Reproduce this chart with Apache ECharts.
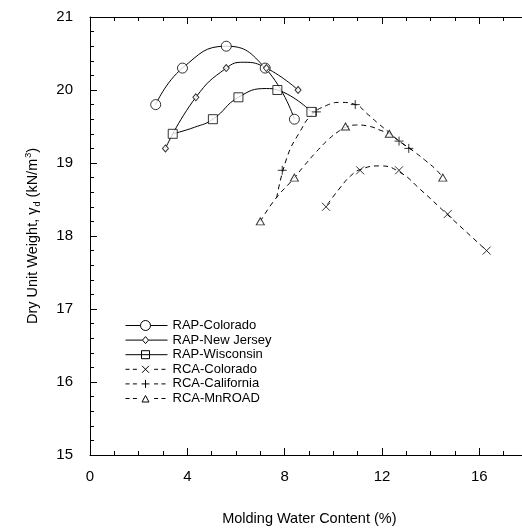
<!DOCTYPE html>
<html><head><meta charset="utf-8">
<script src="https://cdn.jsdelivr.net/npm/echarts@6/dist/echarts.min.js"></script>
<style>html,body{margin:0;padding:0;background:#fff}#c{width:522px;height:531px}</style>
</head><body><div id="c"></div>
<script>
// ---- data ----
const rapColoradoX = [2.7, 3.8, 5.6, 7.2, 8.4];
const rapColoradoY = [19.8, 20.3, 20.6, 20.3, 19.6];
const rapNewJerseyX = [3.1, 4.35, 5.6, 7.25, 8.55];
const rapNewJerseyY = [19.2, 19.9, 20.3, 20.3, 20.0];
const rapWisconsinX = [3.4, 5.05, 6.1, 7.7, 9.1];
const rapWisconsinY = [19.4, 19.6, 19.9, 20.0, 19.7];

const rcaColoradoX = [9.7, 11.1, 12.7, 14.7, 16.3];
const rcaColoradoY = [18.4, 18.9, 18.9, 18.3, 17.8];
const rcaCaliforniaX = [7.9, 9.3, 10.9, 12.7, 13.1];
const rcaCaliforniaY = [18.9, 19.7, 19.8, 19.3, 19.2];
const rcaMnroadX = [7.0, 8.4, 10.5, 12.3, 14.5];
const rcaMnroadY = [18.2, 18.8, 19.5, 19.4, 18.8];

// curves (solid spline curves and dashed fit curves)
const rapColoradoCurveX = [2.7, 3.8, 5.6, 7.2, 8.4];
const rapColoradoCurveY = [19.8, 20.3, 20.6, 20.3, 19.6];
const rapNewJerseyCurveX = [3.1, 4.35, 5.6, 6.3, 7.25, 8.55];
const rapNewJerseyCurveY = [19.2, 19.9, 20.3, 20.38, 20.3, 20.0];
const rapWisconsinCurveX = [3.4, 4.3, 5.05, 6.1, 7.25, 7.7, 9.1];
const rapWisconsinCurveY = [19.4, 19.49, 19.6, 19.9, 20.02, 20.0, 19.7];

const rcaColoradoFitX = [9.75, 10.3, 10.7, 11.1, 11.9, 12.7, 13.6, 14.7, 16.3];
const rcaColoradoFitY = [18.43, 18.67, 18.82, 18.91, 18.96, 18.88, 18.63, 18.29, 17.8];
const rcaCaliforniaFitX = [7.67, 8.11, 8.63, 9.11, 9.73, 10.28, 10.92, 11.37, 11.85, 12.29, 12.74, 13.29];
const rcaCaliforniaFitY = [18.52, 19.09, 19.43, 19.66, 19.79, 19.83, 19.80, 19.68, 19.54, 19.42, 19.29, 19.17];
const rcaMnroadFitX = [7.0, 7.6, 8.38, 8.77, 9.32, 9.79, 10.2, 10.51, 10.96, 11.51, 11.92, 12.29, 12.75, 13.3, 13.8, 14.25, 14.5];
const rcaMnroadFitY = [18.2, 18.5, 18.79, 18.95, 19.16, 19.32, 19.43, 19.49, 19.52, 19.50, 19.45, 19.40, 19.29, 19.16, 19.03, 18.9, 18.8];

const seriesNames = ['RAP-Colorado', 'RAP-New Jersey', 'RAP-Wisconsin', 'RCA-Colorado', 'RCA-California', 'RCA-MnROAD'];
const xTickLabels = [0, 4, 8, 12, 16];
const yTickLabels = [15, 16, 17, 18, 19, 20, 21];
const xTitle = 'Molding Water Content (%)';

function zip(xs, ys) { return xs.map((x, i) => [x, ys[i]]); }

const FONT = "'Liberation Sans', Arial, Helvetica, sans-serif";
const dash = [5, 4];

// legend icons (line + marker), drawn as outlines in a 42x10 box
const BOX = 'M0,0M42,10';
const DASHES = 'M0,5L4,5M7.4,5L11.4,5M28.6,5L32.6,5M36,5L40,5';
const icons = [
  'path://' + BOX + 'M0,5L15,5M25,5L42,5M25,5C25,7.76 22.76,10 20,10C17.24,10 15,7.76 15,5C15,2.24 17.24,0 20,0C22.76,0 25,2.24 25,5Z',
  'path://' + BOX + 'M0,5L17,5M23,5L42,5M17,5L20,1.5L23,5L20,8.5Z',
  'path://' + BOX + 'M0,5L42,5M16,1L24,1L24,9L16,9Z',
  'path://' + BOX + DASHES + 'M16.5,1.5L23.5,8.5M23.5,1.5L16.5,8.5',
  'path://' + BOX + DASHES + 'M20,1L20,9M16,5L24,5',
  'path://' + BOX + DASHES + 'M16.5,8.5L20,2L23.5,8.5Z'
];

const X_SYM = 'path://M0,0L10,10M10,0L0,10';
const PLUS_SYM = 'path://M5,0L5,10M0,5L10,5';

const axisLine = { show: true, onZero: false, lineStyle: { color: '#000', width: 1 } };
const tickStyle = { color: '#000', width: 1 };

function curveSeries(name, xs, ys, dashed) {
  return {
    type: 'line', name: name, data: zip(xs, ys), smooth: 0.5,
    symbol: 'none', showSymbol: false, color: '#000',
    lineStyle: { color: '#000', width: 1, type: dashed ? dash : 'solid' },
    emphasis: { disabled: true }, z: 2
  };
}
function markSeries(name, xs, ys, symbol, size, fill) {
  return {
    type: 'scatter', name: name, data: zip(xs, ys),
    symbol: symbol, symbolSize: size,
    itemStyle: { color: fill, borderColor: '#000', borderWidth: 1 },
    emphasis: { disabled: true }, z: 4
  };
}

const chart = echarts.init(document.getElementById('c'), null, { renderer: 'canvas' });
chart.setOption({
  animation: false,
  backgroundColor: '#fff',
  grid: { left: 90, top: 17, width: 486.67, height: 438, containLabel: false, outerBoundsMode: 'none' },
  xAxis: [
    {
      type: 'value', min: 0, max: 20, interval: 4, position: 'bottom',
      axisLine: axisLine,
      axisTick: { show: true, inside: true, length: 7, lineStyle: tickStyle },
      minorTick: { show: true, splitNumber: 4, length: 4, lineStyle: tickStyle },
      splitLine: { show: false },
      axisLabel: {
        margin: 14, fontSize: 15, color: '#000', fontFamily: FONT,
        formatter: v => (xTickLabels.indexOf(v) >= 0 ? String(v) : '')
      },
      name: xTitle, nameLocation: 'middle', nameGap: 56,
      nameTextStyle: { fontSize: 14.5, color: '#000', fontFamily: FONT, padding: [0, 48, 0, 0] }
    },
    {
      type: 'value', min: 0, max: 20, interval: 4, position: 'top',
      axisLine: axisLine,
      axisTick: { show: true, inside: true, length: 7, lineStyle: tickStyle },
      minorTick: { show: true, splitNumber: 4, length: 4, lineStyle: tickStyle },
      splitLine: { show: false }, axisLabel: { show: false }
    }
  ],
  yAxis: {
    type: 'value', min: 15, max: 21, interval: 1, position: 'left',
    axisLine: axisLine,
    axisTick: { show: true, inside: true, length: 7, lineStyle: tickStyle },
    minorTick: { show: true, splitNumber: 5, length: 4, lineStyle: tickStyle },
    splitLine: { show: false },
    axisLabel: {
      margin: 17, fontSize: 15, color: '#000', fontFamily: FONT,
      formatter: v => (yTickLabels.indexOf(v) >= 0 ? String(v) : '')
    },
    name: 'Dry Unit Weight, {g|γ}{d|d} (kN/m{p|3})',
    nameLocation: 'middle', nameRotate: 90, nameGap: 48,
    nameTextStyle: {
      fontSize: 14.5, color: '#000', fontFamily: FONT,
      rich: {
        g: { fontSize: 14.5, color: '#000', fontFamily: FONT },
        d: { fontSize: 9, color: '#000', fontFamily: FONT, padding: [9, 0, 0, 1] },
        p: { fontSize: 9, color: '#000', fontFamily: FONT, padding: [0, 0, 8, 1] }
      }
    }
  },
  legend: {
    orient: 'vertical', left: 118, top: 313, padding: 5,
    itemWidth: 42, itemHeight: 10, itemGap: -0.4,
    selectedMode: false,
    textStyle: { fontSize: 13, color: '#000', fontFamily: FONT, lineHeight: 14 },
    itemStyle: { color: 'none', borderColor: '#000', borderWidth: 1 },
    data: seriesNames.map((n, i) => ({ name: n, icon: icons[i] }))
  },
  series: [
    curveSeries(seriesNames[0], rapColoradoCurveX, rapColoradoCurveY, false),
    curveSeries(seriesNames[1], rapNewJerseyCurveX, rapNewJerseyCurveY, false),
    curveSeries(seriesNames[2], rapWisconsinCurveX, rapWisconsinCurveY, false),
    curveSeries(seriesNames[3], rcaColoradoFitX, rcaColoradoFitY, true),
    curveSeries(seriesNames[4], rcaCaliforniaFitX, rcaCaliforniaFitY, true),
    curveSeries(seriesNames[5], rcaMnroadFitX, rcaMnroadFitY, true),
    markSeries('RAP-Colorado data', rapColoradoX, rapColoradoY, 'circle', 10, '#fff'),
    markSeries('RAP-New Jersey data', rapNewJerseyX, rapNewJerseyY, 'diamond', [6, 7], '#fff'),
    markSeries('RAP-Wisconsin data', rapWisconsinX, rapWisconsinY, 'rect', 9, '#fff'),
    markSeries('RCA-Colorado data', rcaColoradoX, rcaColoradoY, X_SYM, 8, 'none'),
    markSeries('RCA-California data', rcaCaliforniaX, rcaCaliforniaY, PLUS_SYM, 9, 'none'),
    markSeries('RCA-MnROAD data', rcaMnroadX, rcaMnroadY, 'triangle', [8, 7], '#fff')
  ]
});
</script>
</body></html>
